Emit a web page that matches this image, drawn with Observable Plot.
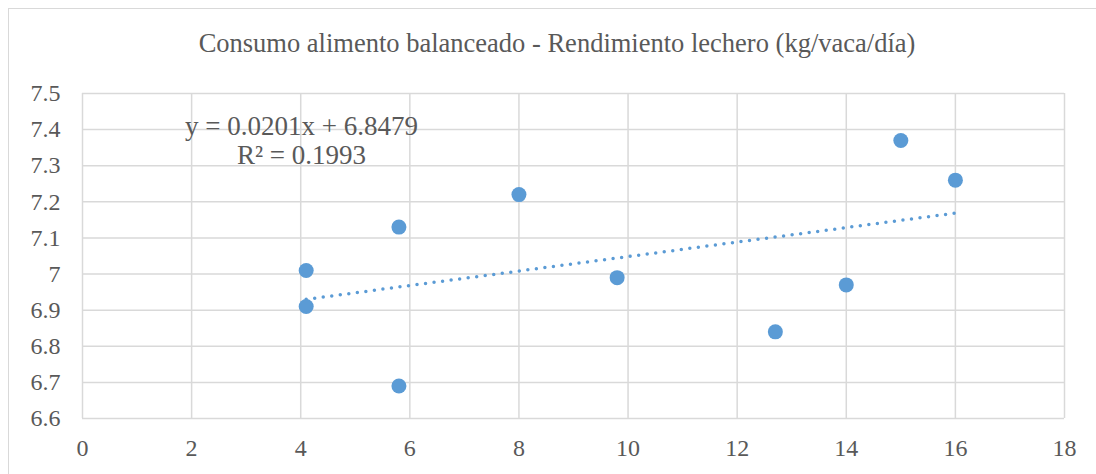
<!DOCTYPE html>
<html>
<head>
<meta charset="utf-8">
<script src="https://cdn.jsdelivr.net/npm/d3@7"></script>
<script src="https://cdn.jsdelivr.net/npm/@observablehq/plot@0.6"></script>
<style>
  html, body { margin: 0; padding: 0; background: #fff; }
  #wrap { position: relative; width: 1096px; height: 474px; overflow: hidden; }
  #border { position: absolute; left: 8px; top: 8px; width: 1100px; height: 480px; border: 1px solid #d9d9d9; box-sizing: border-box; }
  #title { position: absolute; left: 0; top: 30px; width: 1114px; text-align: center; line-height: 1;
           font-family: "Liberation Serif", "Times New Roman", serif; font-size: 26.5px; color: #595959; white-space: nowrap; }
  #chart { position: absolute; left: 0; top: 0; }
  #chart svg, #chart svg text { font-family: "Liberation Serif", "Times New Roman", serif; }
</style>
</head>
<body>
<div id="wrap">
  <div id="border"></div>
  <div id="chart"></div>
  <div id="title">Consumo alimento balanceado - Rendimiento lechero (kg/vaca/día)</div>
</div>
<script>
const consumo = [4.1, 4.1, 5.8, 5.8, 8, 9.8, 12.7, 14, 15, 16];
const rendimiento = [7.01, 6.91, 7.13, 6.69, 7.22, 6.99, 6.84, 6.97, 7.37, 7.26];
const xTicks = [0, 2, 4, 6, 8, 10, 12, 14, 16, 18];
const yTicks = [6.6, 6.7, 6.8, 6.9, 7.0, 7.1, 7.2, 7.3, 7.4, 7.5];
const equationLabel = "y = 0.0201x + 6.8479\nR² = 0.1993";

const data = consumo.map((x, i) => ({x, y: rendimiento[i]}));
const blue = "#5b9bd5";
const grid = "#d9d9d9";
const fmt = d => String(+(+d).toFixed(1));

const chart = Plot.plot({
  width: 1096,
  height: 474,
  marginLeft: 82,
  marginRight: 32,
  marginTop: 93,
  marginBottom: 56,
  style: {fontFamily: "'Liberation Serif', 'Times New Roman', serif", fontSize: "24px", color: "#595959", background: "transparent"},
  x: {domain: [0, 18], label: null},
  y: {domain: [6.6, 7.5], label: null},
  marks: [
    Plot.ruleX(xTicks, {stroke: grid, strokeWidth: 1.5}),
    Plot.ruleY(yTicks, {stroke: grid, strokeWidth: 1.5}),
    Plot.axisX({ticks: xTicks, tickSize: 0, tickPadding: 20, fill: "#595959", label: null}),
    Plot.axisY({ticks: yTicks, tickSize: 0, tickPadding: 22, fill: "#595959", tickFormat: fmt, label: null}),
    Plot.linearRegressionY(data, {x: "x", y: "y", ci: 0, stroke: blue, strokeWidth: 3.5,
      strokeDasharray: "0 8.6", strokeLinecap: "round"}),
    Plot.dot(data, {x: "x", y: "y", r: 7.5, fill: blue, stroke: "none"}),
    Plot.text([equationLabel], {frameAnchor: "top-left", dx: 219, dy: 21, textAnchor: "middle",
      lineAnchor: "top", lineHeight: 1.08, fontSize: 27, fill: "#595959"})
  ]
});
document.getElementById("chart").appendChild(chart);
</script>
</body>
</html>
